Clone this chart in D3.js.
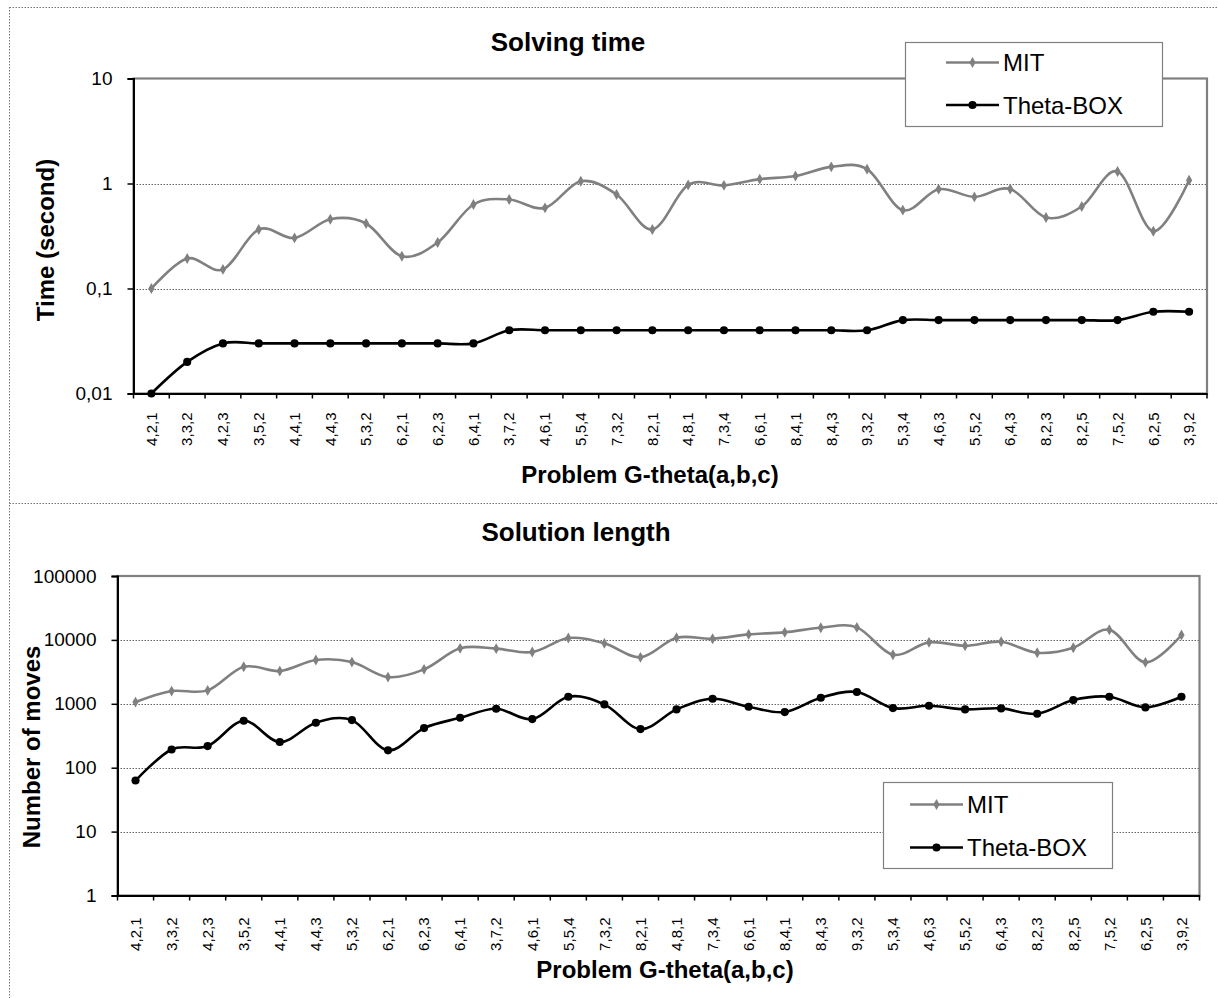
<!DOCTYPE html>
<html>
<head>
<meta charset="utf-8">
<script src="https://cdn.jsdelivr.net/npm/d3@7"></script>
<style>
  body { margin: 0; background: #fff; }
  text { font-family: "Liberation Sans", Arial, sans-serif; }
</style>
</head>
<body>
<div id="chart"></div>
<script>
var categories = ["4,2,1","3,3,2","4,2,3","3,5,2","4,4,1","4,4,3","5,3,2","6,2,1","6,2,3","6,4,1",
  "3,7,2","4,6,1","5,5,4","7,3,2","8,2,1","4,8,1","7,3,4","6,6,1","8,4,1","8,4,3",
  "9,3,2","5,3,4","4,6,3","5,5,2","6,4,3","8,2,3","8,2,5","7,5,2","6,2,5","3,9,2"];

// solving time (seconds)
var mitTime = [0.1, 0.193, 0.152, 0.365, 0.303, 0.457, 0.416, 0.203, 0.274, 0.631,
  0.704, 0.586, 1.05, 0.785, 0.365, 0.97, 0.96, 1.10, 1.18, 1.44,
  1.37, 0.557, 0.883, 0.745, 0.886, 0.474, 0.604, 1.30, 0.351, 1.075];
var thetaTime = [0.01, 0.02, 0.03, 0.03, 0.03, 0.03, 0.03, 0.03, 0.03, 0.03,
  0.04, 0.04, 0.04, 0.04, 0.04, 0.04, 0.04, 0.04, 0.04, 0.04,
  0.04, 0.05, 0.05, 0.05, 0.05, 0.05, 0.05, 0.05, 0.06, 0.06];

// solution length (moves)
var mitMoves = [1064, 1582, 1622, 3800, 3254, 4841, 4500, 2620, 3460, 7380,
  7300, 6455, 10700, 8830, 5330, 10800, 10420, 12200, 13130, 15500,
  15700, 5860, 9160, 8100, 9360, 6290, 7540, 14420, 4450, 11920];
var thetaMoves = [63, 193, 218, 542, 252, 505, 556, 187, 417, 604,
  836, 576, 1288, 979, 402, 818, 1199, 898, 742, 1243,
  1527, 857, 931, 818, 848, 698, 1143, 1288, 879, 1288];

var timeTicks = [0.01, 0.1, 1, 10],
    timeTickLabels = ["0,01", "0,1", "1", "10"];
var moveTicks = [1, 10, 100, 1000, 10000, 100000],
    moveTickLabels = ["1", "10", "100", "1000", "10000", "100000"];

var seriesNames = ["MIT", "Theta-BOX"];

var width = 1218, height = 998;

var svg = d3.select("#chart").append("svg")
    .attr("width", width)
    .attr("height", height);

// dotted frame and divider
var frame = svg.append("g")
    .attr("stroke", "#777")
    .attr("stroke-width", 1)
    .attr("stroke-dasharray", "1.5,1.5");
frame.append("line").attr("x1", 9.5).attr("y1", 7).attr("x2", 9.5).attr("y2", height);
frame.append("line").attr("x1", 9.5).attr("y1", 7.5).attr("x2", width).attr("y2", 7.5);
frame.append("line").attr("x1", 9.5).attr("y1", 503.5).attr("x2", width).attr("y2", 503.5);

function drawChart(cfg) {
  var x = d3.scaleBand()
      .domain(categories)
      .range([cfg.left, cfg.right]);

  var y = d3.scaleLog()
      .domain(cfg.domain)
      .range([cfg.bottom, cfg.top]);

  var g = svg.append("g");

  // title
  g.append("text")
      .attr("x", cfg.titleX)
      .attr("y", cfg.titleY)
      .attr("text-anchor", "middle")
      .style("font-size", "26px")
      .style("font-weight", "bold")
      .text(cfg.title);

  // grid lines (inner decades only)
  g.selectAll(".grid")
      .data(cfg.ticks.slice(1, -1))
    .enter().append("line")
      .attr("class", "grid")
      .attr("x1", cfg.left)
      .attr("x2", cfg.right)
      .attr("y1", function(d) { return Math.round(y(d)) + 0.5; })
      .attr("y2", function(d) { return Math.round(y(d)) + 0.5; })
      .attr("stroke", "#666")
      .attr("stroke-width", 1)
      .attr("stroke-dasharray", "1.5,1.5");

  // plot area border
  g.append("rect")
      .attr("x", cfg.left)
      .attr("y", cfg.top)
      .attr("width", cfg.right - cfg.left)
      .attr("height", cfg.bottom - cfg.top)
      .attr("fill", "none")
      .attr("stroke", "#808080")
      .attr("stroke-width", 2.2);

  // y axis
  var yAxis = d3.axisLeft(y)
      .tickValues(cfg.ticks)
      .tickSize(6)
      .tickPadding(15)
      .tickFormat(function(d, i) { return cfg.tickLabels[i]; });

  var ya = g.append("g")
      .attr("transform", "translate(" + cfg.left + ",0)")
      .call(yAxis);
  ya.select(".domain").attr("stroke", "#000").attr("stroke-width", 2);
  ya.selectAll(".tick line").attr("stroke", "#000").attr("stroke-width", 1.5);
  ya.selectAll(".tick text")
      .attr("fill", "#000")
      .style("font-size", "19px")
      .style("font-family", "'Liberation Sans', Arial, sans-serif");

  // x axis: labels at category centres, ticks between categories
  var xAxis = d3.axisBottom(x)
      .tickSize(0)
      .tickPadding(0);

  var xa = g.append("g")
      .attr("transform", "translate(0," + cfg.bottom + ")")
      .call(xAxis);
  xa.select(".domain").attr("stroke", "#000").attr("stroke-width", 2);
  xa.selectAll(".tick text")
      .attr("fill", "#000")
      .attr("transform", "translate(0," + cfg.labelOffset + ") rotate(-90)")
      .attr("x", 0)
      .attr("y", 0)
      .attr("dy", "0.35em")
      .attr("text-anchor", "end")
      .style("font-size", "15px")
      .style("font-family", "'Liberation Sans', Arial, sans-serif");

  g.selectAll(".xtick")
      .data(categories.concat(["end"]))
    .enter().append("line")
      .attr("class", "xtick")
      .attr("x1", function(d) { return d === "end" ? cfg.right : x(d); })
      .attr("x2", function(d) { return d === "end" ? cfg.right : x(d); })
      .attr("y1", cfg.bottom)
      .attr("y2", cfg.bottom + 5)
      .attr("stroke", "#000")
      .attr("stroke-width", 1.5);

  // axis titles
  g.append("text")
      .attr("x", cfg.xTitleX)
      .attr("y", cfg.xTitleY)
      .attr("text-anchor", "middle")
      .style("font-size", "24px")
      .style("font-weight", "bold")
      .text("Problem G-theta(a,b,c)");

  g.append("text")
      .attr("transform", "translate(" + cfg.yTitleX + "," + cfg.yTitleY + ") rotate(-90)")
      .attr("text-anchor", "middle")
      .style("font-size", "24px")
      .style("font-weight", "bold")
      .text(cfg.yTitle);

  // series
  var line = d3.line()
      .x(function(d, i) { return x(categories[i]) + x.bandwidth() / 2; })
      .y(function(d) { return y(d); })
      .curve(d3.curveCatmullRom.alpha(0));

  var styles = [
    { color: "#808080", marker: "diamond" },
    { color: "#000000", marker: "circle" }
  ];

  cfg.series.forEach(function(values, s) {
    var st = styles[s];
    g.append("path")
        .datum(values)
        .attr("fill", "none")
        .attr("stroke", st.color)
        .attr("stroke-width", 2.6)
        .attr("d", line);

    g.selectAll(".m" + s)
        .data(values)
      .enter().append("path")
        .attr("class", "m" + s)
        .attr("fill", st.color)
        .attr("transform", function(d, i) {
          return "translate(" + (x(categories[i]) + x.bandwidth() / 2) + "," + y(d) + ")";
        })
        .attr("d", d3.symbol()
            .type(st.marker === "circle" ? d3.symbolCircle : d3.symbolDiamond)
            .size(st.marker === "circle" ? 52 : 34));
  });

  // legend
  var lg = g.append("g");
  lg.append("rect")
      .attr("x", cfg.legend.x)
      .attr("y", cfg.legend.y)
      .attr("width", cfg.legend.w)
      .attr("height", cfg.legend.h)
      .attr("fill", "#fff")
      .attr("stroke", "#808080")
      .attr("stroke-width", 1.2);

  seriesNames.forEach(function(name, s) {
    var st = styles[s];
    var ly = cfg.legend.rows[s];
    var lx = cfg.legend.lineX;
    lg.append("line")
        .attr("x1", lx)
        .attr("x2", lx + 53)
        .attr("y1", ly)
        .attr("y2", ly)
        .attr("stroke", st.color)
        .attr("stroke-width", 2.6);
    lg.append("path")
        .attr("fill", st.color)
        .attr("transform", "translate(" + (lx + 26.5) + "," + ly + ")")
        .attr("d", d3.symbol()
            .type(st.marker === "circle" ? d3.symbolCircle : d3.symbolDiamond)
            .size(st.marker === "circle" ? 52 : 34));
    lg.append("text")
        .attr("x", lx + 57)
        .attr("y", ly + 8.5)
        .style("font-size", "24px")
        .text(name);
  });
}

drawChart({
  title: "Solving time",
  titleX: 568, titleY: 51,
  left: 133.5, right: 1207, top: 78.5, bottom: 393.5,
  domain: [0.01, 10],
  ticks: timeTicks, tickLabels: timeTickLabels,
  labelOffset: 19,
  xTitleX: 650, xTitleY: 483,
  yTitle: "Time (second)", yTitleX: 54, yTitleY: 240,
  series: [mitTime, thetaTime],
  legend: { x: 905.5, y: 42.5, w: 257, h: 84, lineX: 946, rows: [62.5, 105] }
});

drawChart({
  title: "Solution length",
  titleX: 576, titleY: 541,
  left: 117.5, right: 1199.5, top: 576, bottom: 895.5,
  domain: [1, 100000],
  ticks: moveTicks, tickLabels: moveTickLabels,
  labelOffset: 22,
  xTitleX: 665, xTitleY: 978,
  yTitle: "Number of moves", yTitleX: 40, yTitleY: 747,
  series: [mitMoves, thetaMoves],
  legend: { x: 883.5, y: 782.5, w: 229, h: 86, lineX: 910, rows: [804.5, 847.5] }
});
</script>
</body>
</html>
